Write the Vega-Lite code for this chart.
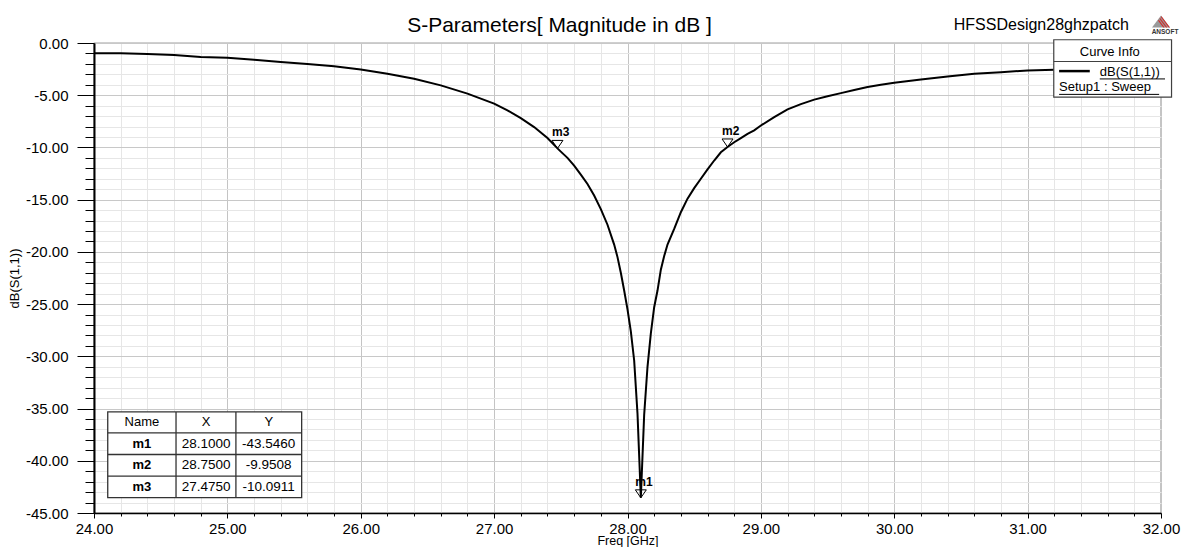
{
  "$schema": "https://vega.github.io/schema/vega-lite/v6.json",
  "width": 1067,
  "height": 470,
  "autosize": {"type": "none"},
  "padding": {"left": 94, "top": 43, "right": 21, "bottom": 34},
  "background": "white",
  "config": {
    "font": "Liberation Sans",
    "view": {"stroke": "#404040", "strokeWidth": 1.2},
    "locale": {"number": {"decimal": ".", "thousands": ",", "grouping": [3], "currency": ["$", ""], "minus": "-"}},
    "text": {"font": "Liberation Sans", "color": "#000"}
  },
  "title": {"text": "S-Parameters[ Magnitude in dB ]", "anchor": "middle", "frame": "group", "dx": -68, "offset": -37, "baseline": "alphabetic", "fontSize": 21, "fontWeight": "normal", "font": "Liberation Sans", "color": "#000"},
  "datasets": {
    "curve": [
      {"freq": 24.0, "db": -0.97}, {"freq": 24.2, "db": -0.97}, {"freq": 24.4, "db": -1.05}, {"freq": 24.6, "db": -1.15},
      {"freq": 24.8, "db": -1.35}, {"freq": 25.0, "db": -1.42}, {"freq": 25.2, "db": -1.6}, {"freq": 25.4, "db": -1.82},
      {"freq": 25.6, "db": -2.0}, {"freq": 25.8, "db": -2.22}, {"freq": 26.0, "db": -2.53}, {"freq": 26.2, "db": -2.95},
      {"freq": 26.4, "db": -3.42}, {"freq": 26.6, "db": -4.06}, {"freq": 26.8, "db": -4.85}, {"freq": 27.0, "db": -5.8},
      {"freq": 27.1, "db": -6.45}, {"freq": 27.2, "db": -7.2}, {"freq": 27.3, "db": -8.05}, {"freq": 27.4, "db": -9.1},
      {"freq": 27.475, "db": -10.0911}, {"freq": 27.5, "db": -10.4}, {"freq": 27.55, "db": -11.0}, {"freq": 27.6, "db": -11.75},
      {"freq": 27.65, "db": -12.6}, {"freq": 27.7, "db": -13.5}, {"freq": 27.75, "db": -14.6}, {"freq": 27.8, "db": -15.9},
      {"freq": 27.85, "db": -17.4}, {"freq": 27.9, "db": -19.3}, {"freq": 27.925, "db": -20.5}, {"freq": 27.95, "db": -22.0},
      {"freq": 27.975, "db": -23.7}, {"freq": 28.0, "db": -25.5}, {"freq": 28.025, "db": -27.6}, {"freq": 28.05, "db": -30.4},
      {"freq": 28.075, "db": -35.5}, {"freq": 28.1, "db": -43.546}, {"freq": 28.125, "db": -35.6}, {"freq": 28.15, "db": -31.0},
      {"freq": 28.175, "db": -27.8}, {"freq": 28.2, "db": -25.3}, {"freq": 28.225, "db": -23.7}, {"freq": 28.25, "db": -21.7},
      {"freq": 28.275, "db": -20.4}, {"freq": 28.3, "db": -19.3}, {"freq": 28.35, "db": -17.8}, {"freq": 28.4, "db": -16.2},
      {"freq": 28.45, "db": -14.9}, {"freq": 28.5, "db": -13.9}, {"freq": 28.55, "db": -13.0}, {"freq": 28.6, "db": -12.1},
      {"freq": 28.65, "db": -11.25}, {"freq": 28.7, "db": -10.46}, {"freq": 28.75, "db": -9.9508}, {"freq": 28.8, "db": -9.5},
      {"freq": 28.85, "db": -9.1}, {"freq": 28.9, "db": -8.7}, {"freq": 28.95, "db": -8.36}, {"freq": 29.0, "db": -7.9},
      {"freq": 29.1, "db": -7.1}, {"freq": 29.2, "db": -6.35}, {"freq": 29.3, "db": -5.85}, {"freq": 29.4, "db": -5.42},
      {"freq": 29.5, "db": -5.1}, {"freq": 29.6, "db": -4.8}, {"freq": 29.7, "db": -4.5}, {"freq": 29.8, "db": -4.22},
      {"freq": 29.9, "db": -4.0}, {"freq": 30.0, "db": -3.8}, {"freq": 30.2, "db": -3.49}, {"freq": 30.4, "db": -3.2},
      {"freq": 30.6, "db": -2.94}, {"freq": 30.8, "db": -2.79}, {"freq": 31.0, "db": -2.63}, {"freq": 31.2, "db": -2.56},
      {"freq": 31.4, "db": -2.5}, {"freq": 31.6, "db": -2.45}, {"freq": 31.8, "db": -2.42}, {"freq": 32.0, "db": -2.4}
    ],
    "markers": [
      {"name": "m1", "X": 28.1, "Y": -43.546},
      {"name": "m2", "X": 28.75, "Y": -9.9508},
      {"name": "m3", "X": 27.475, "Y": -10.0911}
    ]
  },
  "layer": [
    {
      "data": {"name": "curve"},
      "mark": {"type": "line", "color": "#000", "strokeWidth": 2},
      "encoding": {
        "x": {
          "field": "freq", "type": "quantitative", "title": "Freq [GHz]",
          "scale": {"domain": [24, 32], "nice": false, "zero": false},
          "axis": {
            "values": [24,24.2,24.4,24.6,24.8,25,25.2,25.4,25.6,25.8,26,26.2,26.4,26.6,26.8,27,27.2,27.4,27.6,27.8,28,28.2,28.4,28.6,28.8,29,29.2,29.4,29.6,29.8,30,30.2,30.4,30.6,30.8,31,31.2,31.4,31.6,31.8,32],
            "tickCount": 1000,
            "labelExpr": "abs(datum.value - round(datum.value)) < 0.001 ? format(datum.value, '.2f') : ''",
            "labelFlush": false, "labelOverlap": false, "labelFontSize": 15, "labelColor": "#000", "labelPadding": 3,
            "tickColor": "#000",
            "tickSize": {"condition": {"test": "abs(datum.value - round(datum.value)) < 0.001", "value": 5}, "value": 3},
            "grid": true,
            "gridColor": {"condition": {"test": "abs(datum.value - round(datum.value)) < 0.001", "value": "#c4c4c4"}, "value": "#e6e6e6"},
            "domainColor": "#000", "domainWidth": 1.5,
            "titleFontSize": 12.5, "titleFontWeight": "normal", "titleColor": "#000", "titlePadding": -1.5
          }
        },
        "y": {
          "field": "db", "type": "quantitative", "title": "dB(S(1,1))",
          "scale": {"domain": [-45, 0], "nice": false, "zero": false},
          "axis": {
            "values": [0,-1,-2,-3,-4,-5,-6,-7,-8,-9,-10,-11,-12,-13,-14,-15,-16,-17,-18,-19,-20,-21,-22,-23,-24,-25,-26,-27,-28,-29,-30,-31,-32,-33,-34,-35,-36,-37,-38,-39,-40,-41,-42,-43,-44,-45],
            "tickCount": 1000,
            "labelExpr": "datum.value % 5 == 0 ? replace(format(datum.value, '.2f'), '\u2212', '-') : ''",
            "labelFlush": false, "labelOverlap": false, "labelFontSize": 15, "labelColor": "#000", "labelPadding": 9,
            "tickColor": "#000",
            "tickSize": {"condition": {"test": "datum.value % 5 == 0", "value": 17}, "value": 9},
            "grid": true,
            "gridColor": {"condition": {"test": "datum.value % 5 == 0", "value": "#c8c8c8"}, "value": "#e6e6e6"},
            "domainColor": "#000", "domainWidth": 2,
            "titleFontSize": 13, "titleFontWeight": "normal", "titleColor": "#000", "titlePadding": 4
          }
        }
      }
    },
    {
      "data": {"name": "markers"},
      "mark": {"type": "point", "shape": "M-1,-1.45L1,-1.45L0,0Z", "filled": false, "stroke": "#000", "strokeWidth": 1, "size": 121, "opacity": 1},
      "encoding": {
        "x": {"field": "X", "type": "quantitative", "title": "Freq [GHz]"},
        "y": {"field": "Y", "type": "quantitative", "title": "dB(S(1,1))"}
      }
    },
    {
      "data": {"name": "markers"},
      "mark": {"type": "text", "align": "left", "baseline": "alphabetic", "dx": -5.5, "dy": -12, "fontSize": 12, "fontWeight": "bold", "color": "#000"},
      "encoding": {
        "x": {"field": "X", "type": "quantitative", "title": "Freq [GHz]"},
        "y": {"field": "Y", "type": "quantitative", "title": "dB(S(1,1))"},
        "text": {"field": "name"}
      }
    },
    {
      "data": {"values": [{}]},
      "mark": {"type": "rect", "fill": "#fff", "stroke": "#333", "strokeWidth": 1.3},
      "encoding": {"x": {"datum": 24.103}, "x2": {"datum": 25.557}, "y": {"datum": -35.32}, "y2": {"datum": -43.53}}
    },
    {
      "data": {"values": [{}]},
      "mark": {"type": "rule", "stroke": "#333", "strokeWidth": 1.3},
      "encoding": {"x": {"datum": 24.103}, "x2": {"datum": 25.557}, "y": {"datum": -37.33}}
    },
    {
      "data": {"values": [{}]},
      "mark": {"type": "rule", "stroke": "#333", "strokeWidth": 1.3},
      "encoding": {"x": {"datum": 24.103}, "x2": {"datum": 25.557}, "y": {"datum": -39.40}}
    },
    {
      "data": {"values": [{}]},
      "mark": {"type": "rule", "stroke": "#333", "strokeWidth": 1.3},
      "encoding": {"x": {"datum": 24.103}, "x2": {"datum": 25.557}, "y": {"datum": -41.47}}
    },
    {
      "data": {"values": [{}]},
      "mark": {"type": "rule", "stroke": "#333", "strokeWidth": 1.3},
      "encoding": {"x": {"datum": 24.615}, "y": {"datum": -35.32}, "y2": {"datum": -43.53}}
    },
    {
      "data": {"values": [{}]},
      "mark": {"type": "rule", "stroke": "#333", "strokeWidth": 1.3},
      "encoding": {"x": {"datum": 25.064}, "y": {"datum": -35.32}, "y2": {"datum": -43.53}}
    },
    {
      "data": {"values": [{}]},
      "mark": {"type": "text", "text": "Name", "fontSize": 13, "baseline": "middle", "align": "center"},
      "encoding": {"x": {"datum": 24.359}, "y": {"datum": -36.32}}
    },
    {
      "data": {"values": [{}]},
      "mark": {"type": "text", "text": "X", "fontSize": 13, "baseline": "middle", "align": "center"},
      "encoding": {"x": {"datum": 24.84}, "y": {"datum": -36.32}}
    },
    {
      "data": {"values": [{}]},
      "mark": {"type": "text", "text": "Y", "fontSize": 13, "baseline": "middle", "align": "center"},
      "encoding": {"x": {"datum": 25.31}, "y": {"datum": -36.32}}
    },
    {
      "data": {"name": "markers"},
      "encoding": {"x": {"datum": 24.359}},
      "layer": [
        {"transform": [{"filter": "datum.name === 'm1'"}], "mark": {"type": "text", "fontSize": 13, "fontWeight": "bold", "baseline": "middle", "align": "center"}, "encoding": {"y": {"datum": -38.37}, "text": {"field": "name"}}},
        {"transform": [{"filter": "datum.name === 'm2'"}], "mark": {"type": "text", "fontSize": 13, "fontWeight": "bold", "baseline": "middle", "align": "center"}, "encoding": {"y": {"datum": -40.44}, "text": {"field": "name"}}},
        {"transform": [{"filter": "datum.name === 'm3'"}], "mark": {"type": "text", "fontSize": 13, "fontWeight": "bold", "baseline": "middle", "align": "center"}, "encoding": {"y": {"datum": -42.50}, "text": {"field": "name"}}}
      ]
    },
    {
      "data": {"name": "markers"},
      "encoding": {"x": {"datum": 24.84}},
      "layer": [
        {"transform": [{"filter": "datum.name === 'm1'"}], "mark": {"type": "text", "fontSize": 13.5, "baseline": "middle", "align": "center"}, "encoding": {"y": {"datum": -38.37}, "text": {"field": "X", "format": ".4f"}}},
        {"transform": [{"filter": "datum.name === 'm2'"}], "mark": {"type": "text", "fontSize": 13.5, "baseline": "middle", "align": "center"}, "encoding": {"y": {"datum": -40.44}, "text": {"field": "X", "format": ".4f"}}},
        {"transform": [{"filter": "datum.name === 'm3'"}], "mark": {"type": "text", "fontSize": 13.5, "baseline": "middle", "align": "center"}, "encoding": {"y": {"datum": -42.50}, "text": {"field": "X", "format": ".4f"}}}
      ]
    },
    {
      "data": {"name": "markers"},
      "encoding": {"x": {"datum": 25.31}},
      "layer": [
        {"transform": [{"filter": "datum.name === 'm1'"}], "mark": {"type": "text", "fontSize": 13.5, "baseline": "middle", "align": "center"}, "encoding": {"y": {"datum": -38.37}, "text": {"field": "Y", "format": ".4f"}}},
        {"transform": [{"filter": "datum.name === 'm2'"}], "mark": {"type": "text", "fontSize": 13.5, "baseline": "middle", "align": "center"}, "encoding": {"y": {"datum": -40.44}, "text": {"field": "Y", "format": ".4f"}}},
        {"transform": [{"filter": "datum.name === 'm3'"}], "mark": {"type": "text", "fontSize": 13.5, "baseline": "middle", "align": "center"}, "encoding": {"y": {"datum": -42.50}, "text": {"field": "Y", "format": ".4f"}}}
      ]
    },
    {
      "data": {"values": [{}]},
      "mark": {"type": "rect", "fill": "#fff", "stroke": "#404040", "strokeWidth": 1.2},
      "encoding": {"x": {"datum": 31.196}, "x2": {"datum": 32.079}, "y": {"datum": 0.31}, "y2": {"datum": -5.18}}
    },
    {
      "data": {"values": [{}]},
      "mark": {"type": "rule", "stroke": "#404040", "strokeWidth": 1.2},
      "encoding": {"x": {"datum": 31.196}, "x2": {"datum": 32.079}, "y": {"datum": -1.77}}
    },
    {
      "data": {"values": [{}]},
      "mark": {"type": "text", "text": "Curve Info", "fontSize": 13, "align": "center", "baseline": "alphabetic"},
      "encoding": {"x": {"datum": 31.616}, "y": {"datum": -1.2}}
    },
    {
      "data": {"values": [{}]},
      "mark": {"type": "rule", "stroke": "#000", "strokeWidth": 2.5},
      "encoding": {"x": {"datum": 31.236}, "x2": {"datum": 31.466}, "y": {"datum": -2.69}}
    },
    {
      "data": {"values": [{}]},
      "mark": {"type": "text", "text": "dB(S(1,1))", "fontSize": 13, "align": "left", "baseline": "alphabetic"},
      "encoding": {"x": {"datum": 31.541}, "y": {"datum": -3.2}}
    },
    {
      "data": {"values": [{}]},
      "mark": {"type": "rule", "stroke": "#000", "strokeWidth": 1},
      "encoding": {"x": {"datum": 31.541}, "x2": {"datum": 32.03}, "y": {"datum": -3.44}}
    },
    {
      "data": {"values": [{}]},
      "mark": {"type": "text", "text": "Setup1 : Sweep", "fontSize": 13, "align": "left", "baseline": "alphabetic"},
      "encoding": {"x": {"datum": 31.236}, "y": {"datum": -4.6}}
    },
    {
      "data": {"values": [{}]},
      "mark": {"type": "rule", "stroke": "#000", "strokeWidth": 1},
      "encoding": {"x": {"datum": 31.236}, "x2": {"datum": 31.986}, "y": {"datum": -4.92}}
    },
    {
      "data": {"values": [{}]},
      "mark": {"type": "text", "text": "HFSSDesign28ghzpatch", "fontSize": 16, "align": "center", "baseline": "alphabetic"},
      "encoding": {"x": {"datum": 31.103}, "y": {"datum": 1.26}}
    },
    {
      "data": {"values": [{}]},
      "mark": {"type": "point", "shape": "M0,-0.67L1,0.67L-1,0.67Z", "filled": true, "fill": "#9a9a9a", "strokeWidth": 0, "size": 324, "opacity": 1},
      "encoding": {"x": {"datum": 32.0}, "y": {"datum": 2.05}}
    },
    {
      "data": {"values": [{}]},
      "mark": {"type": "point", "shape": "M0.05,-0.6L1,0.67L0.85,0.67L-0.02,-0.5Z M-0.1,-0.4L0.7,0.67L0.55,0.67L-0.17,-0.3Z M-0.25,-0.2L0.4,0.67L0.25,0.67L-0.32,-0.1Z", "filled": true, "fill": "#d42a2a", "strokeWidth": 0, "size": 324, "opacity": 1},
      "encoding": {"x": {"datum": 32.0}, "y": {"datum": 2.05}}
    },
    {
      "data": {"values": [{}]},
      "mark": {"type": "text", "text": "ANSOFT", "fontSize": 6.5, "fontWeight": "bold", "align": "center", "baseline": "alphabetic", "color": "#333"},
      "encoding": {"x": {"datum": 32.03}, "y": {"datum": 0.88}}
    }
  ]
}
